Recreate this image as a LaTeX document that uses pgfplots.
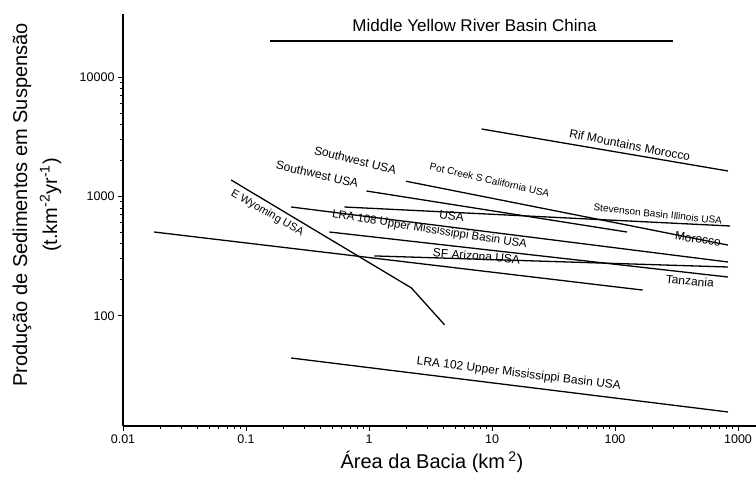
\documentclass[border=0pt]{standalone}
\usepackage{pgfplots}
\pgfplotsset{compat=1.18}
\usepackage{fontspec}
\setmainfont{Liberation Sans}
\begin{document}
\begin{tikzpicture}
\begin{axis}[
  at={(123pt,65pt)}, anchor=south west,
  scale only axis, width=633pt, height=412pt,
  xmode=log, ymode=log,
  xmin=0.01, xmax=1400, ymin=11.9, ymax=33800,
  axis x line*=bottom, axis y line*=left,
  axis line style={-, line width=1.1pt},
  xtick={0.01,0.1,1,10,100,1000}, xticklabels={0.01,0.1,1,10,100,1000},
  ytick={100,1000,10000}, yticklabels={100,1000,10000},
  minor xtick={}, minor ytick={},
  tick align=outside, major tick length=5pt,
  tick style={line width=0.8pt, black},
  /pgf/number format/assume math mode=true,
  ticklabel style={font=\fontsize{12.5}{12.5}\selectfont},
  every axis plot post/.append style={black, solid, line width=1.3pt, mark=none},
  clip=false,
]
% Middle Yellow River Basin China
\addplot coordinates {(0.157,20080) (296,20080)};
% Rif Mountains Morocco
\addplot coordinates {(8.23,3672) (829,1633)};
% Southwest USA (upper) / Pot Creek / Morocco
\addplot coordinates {(2.0,1340) (829,391)};
% Southwest USA (lower)
\addplot coordinates {(0.953,1110) (125,503)};
% USA / Stevenson
\addplot coordinates {(0.631,815) (861,565)};
% LRA 108 Upper Mississippi Basin USA
\addplot coordinates {(0.233,815) (829,282)};
% Tanzania
\addplot coordinates {(0.477,503) (829,211)};
% SF Arizona USA
\addplot coordinates {(1.107,317) (829,256)};
% long line
\addplot coordinates {(0.0179,503) (168,164)};
% E Wyoming USA
\addplot coordinates {(0.0757,1372) (2.21,171) (4.11,84)};
% LRA 102 Upper Mississippi Basin USA
\addplot coordinates {(0.233,44.2) (829,15.6)};

\node[font=\fontsize{17}{17}\selectfont] at (axis cs:7.21,27340) {Middle Yellow River Basin China};
\node[rotate=-11, font=\fontsize{12}{12}\selectfont] at (axis cs:132,2697) {Rif Mountains Morocco};
\node[rotate=-14, font=\fontsize{12}{12}\selectfont] at (axis cs:0.774,2018) {Southwest USA};
\node[rotate=-13, font=\fontsize{12}{12}\selectfont] at (axis cs:0.380,1541) {Southwest USA};
\node[rotate=-13, font=\fontsize{10}{10}\selectfont] at (axis cs:9.56,1372) {Pot Creek S California USA};
\node[rotate=-6, font=\fontsize{10}{10}\selectfont] at (axis cs:223,712) {Stevenson Basin Illinois USA};
\node[rotate=-8, font=\fontsize{12}{12}\selectfont] at (axis cs:4.69,690) {USA};
\node[rotate=-9, font=\fontsize{11.5}{11.5}\selectfont] at (axis cs:3.10,525) {LRA 108 Upper Mississippi Basin USA};
\node[rotate=-8, font=\fontsize{12}{12}\selectfont] at (axis cs:472,440) {Morocco};
\node[rotate=-5, font=\fontsize{12}{12}\selectfont] at (axis cs:7.49,317) {SF Arizona USA};
\node[rotate=-5, font=\fontsize{12}{12}\selectfont] at (axis cs:406,195) {Tanzania};
\node[rotate=-30, font=\fontsize{11}{11}\selectfont] at (axis cs:0.149,726) {E Wyoming USA};
\node[rotate=-7, font=\fontsize{12}{12}\selectfont] at (axis cs:16.5,32.5) {LRA 102 Upper Mississippi Basin USA};
\end{axis}
\node[rotate=90, align=center, font=\fontsize{20}{30}\selectfont] at (37pt,286pt)
  {Produção de Sedimentos em Suspensão\\(t.km\textsuperscript{-2}yr\textsuperscript{-1})};
\node[font=\fontsize{20}{20}\selectfont] at (432pt,29pt) {Área da Bacia (km\,\textsuperscript{2})};
\pgfresetboundingbox
\path (0pt,0pt) rectangle (756pt,491pt);
\end{tikzpicture}
\end{document}
